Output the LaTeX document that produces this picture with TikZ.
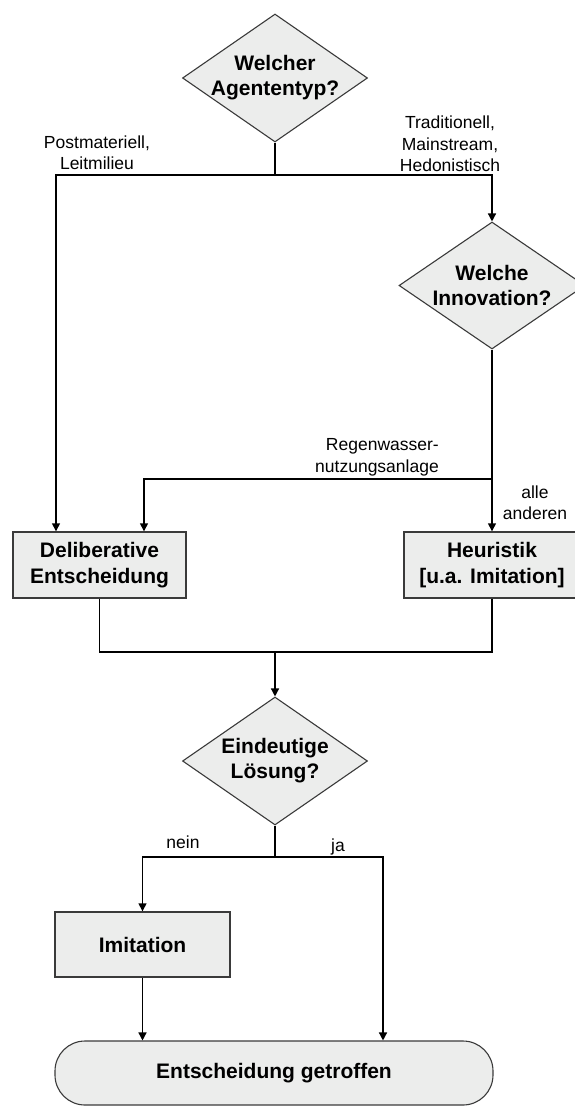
\documentclass[tikz,border=0pt]{standalone}
\usepackage{fontspec}
\setmainfont{Liberation Sans}
\usetikzlibrary{shapes.geometric,arrows.meta}
\definecolor{boxfill}{HTML}{ECEDEC}
\definecolor{boxline}{HTML}{3A3A3A}

\begin{document}
\begin{tikzpicture}[
    x=1pt, y=-1pt,
    decision/.style={diamond, draw=boxline, fill=boxfill, line width=1.1pt, inner sep=-14pt, aspect=1.45, align=center, minimum width=185pt, minimum height=128pt, font=\fontsize{21}{25}\selectfont\bfseries},
    activity/.style={rectangle, draw=boxline, fill=boxfill, line width=1.4pt, minimum height=66pt, align=center, font=\fontsize{21}{26}\selectfont\bfseries},
    terminal/.style={rectangle, rounded corners=30pt, draw=boxline, fill=boxfill, line width=1.1pt, minimum width=438pt, minimum height=64pt, font=\fontsize{21}{25}\selectfont\bfseries},
    branchtext/.style={align=center, inner sep=0pt, font=\fontsize{17.5}{21.5}\selectfont},
    line/.style={line width=1.4pt},
    arrow/.style={-{Triangle[width=8pt,length=8pt]}, line width=1.4pt},
]
    \useasboundingbox (0,0) rectangle (575,1106);
    \clip (0,0) rectangle (575,1106);

    % Decisions
    \node[decision] (q1) at (275, 78) {Welcher\\Agententyp?};
    \node[decision, minimum width=186pt, minimum height=127pt] (q2) at (492, 285.5) {Welche\\Innovation?};
    \node[decision] (q3) at (275, 761) {Eindeutige\\Lösung?};

    % Activities
    \node[activity, minimum width=173pt] (delib) at (99.5, 565) {Deliberative\\Entscheidung};
    \node[activity, minimum width=176pt] (heur) at (492, 565) {Heuristik\\{}[u.a. Imitation]};
    \node[activity, minimum width=175pt, minimum height=65pt] (imit) at (142.5, 944.5) {Imitation};

    % End
    \node[terminal] (done) at (274, 1073) {Entscheidung getroffen};

    % Junctions
    \coordinate (j1) at (275, 175);
    \coordinate (j2) at (492, 479);
    \coordinate (merge) at (275, 652);
    \coordinate (j3) at (275, 857);

    % Relationships
    \draw[line] (q1) -- (j1);
    \draw[arrow] (j1) -| ([xshift=-43.5pt]delib.north);
    \draw[arrow] (j1) -| (q2);
    \draw[arrow] (q2) -- (heur);
    \draw[arrow] (j2) -| ([xshift=44.5pt]delib.north);
    \draw[line] (delib) |- (merge);
    \draw[line] (heur) |- (merge);
    \draw[arrow] (merge) -- (q3);
    \draw[line] (q3) -- (j3);
    \draw[arrow] (j3) -| (imit);
    \draw[arrow] (j3) -| ([xshift=109pt]done.north);
    \draw[arrow] (imit) -- (imit |- done.north);

    % Branch labels
    \node[branchtext] (lpost) at (97, 152.5) {Postmateriell,\\Leitmilieu};
    \node[branchtext] (ltrad) at (450, 144) {Traditionell,\\Mainstream,\\Hedonistisch};
    \node[branchtext, align=right, anchor=east] (lregen) at (439, 457.5) {Regenwasser-\\nutzungsanlage};
    \node[branchtext] (lother) at (535, 502.5) {alle\\anderen};
    \node[branchtext] (lnein) at (183, 842) {nein};
    \node[branchtext] (lja) at (338, 847) {ja};
\end{tikzpicture}
\end{document}
